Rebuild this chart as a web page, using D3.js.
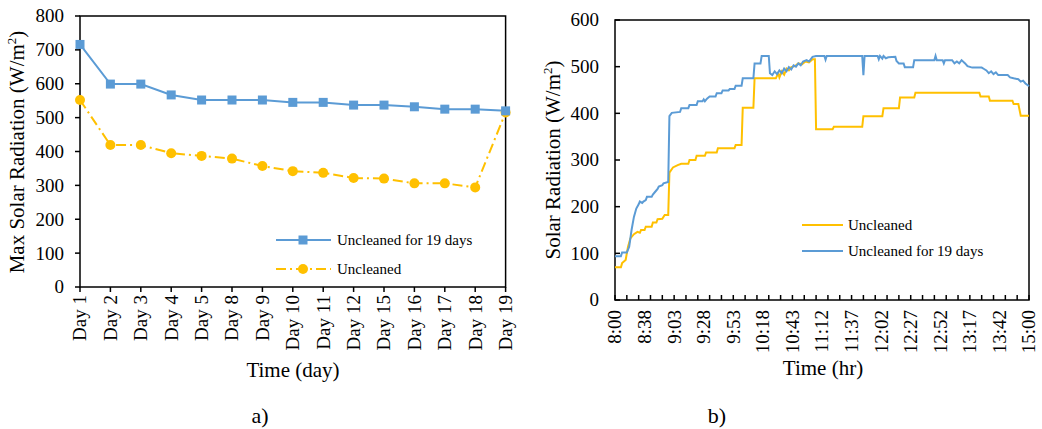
<!DOCTYPE html>
<html>
<head>
<meta charset="utf-8">
<script src="https://cdn.jsdelivr.net/npm/d3@7"></script>
<style>
  body { margin: 0; background: #fff; }
  svg text { font-family: "Liberation Serif", "Times New Roman", serif; fill: #000; }
</style>
</head>
<body>
<div id="viz"></div>
<script>
/*** data: a) daily max ***/
const days = ["Day 1","Day 2","Day 3","Day 4","Day 5","Day 8","Day 9","Day 10","Day 11","Day 12","Day 15","Day 16","Day 17","Day 18","Day 19"];
const maxDirty19 = [716, 599, 599, 567, 552, 552, 552, 545, 545, 537, 537, 532, 525, 525, 520];
const maxUncleaned = [552, 419, 419, 395, 387, 379, 357, 342, 337, 322, 320, 306, 306, 294, 515];

/*** data: b) one day, category index vs W/m2 ***/
const timeLabels = ["8:00","8:38","9:03","9:28","9:53","10:18","10:43","11:12","11:37","12:02","12:27","12:52","13:17","13:42","15:00"];
const dayUncleaned = [[0,70],[5,70],[6,79],[9,86],[11,114],[13,132],[16,141],[19,146],[21,144],[22,150],[25,150],[26,157],[31,157],[32,166],[35,166],[36,173],[40,174],[42,182],[45,182],[46,273],[49,284],[53,289],[56,292],[62,292],[63,300],[68,300],[69,309],[76,309],[77,316],[86,316],[87,325],[101,325],[102,332],[107,332],[108,412],[117,412],[118,475],[136,475],[138,486],[139,477],[141,490],[143,483],[145,496],[147,492],[149,499],[152,501],[155,507],[158,505],[161,511],[164,509],[167,516],[169,516],[170,366],[184,366],[185,371],[209,371],[210,394],[226,394],[227,411],[240,411],[241,434],[253,434],[254,444],[308,444],[309,436],[316,436],[317,427],[336,427],[337,420],[341,420],[343,395],[350,395]];
const dayDirty19 = [[0,94],[5,94],[6,102],[10,102],[12,114],[14,150],[16,178],[18,196],[20,205],[21,211],[23,208],[24,211],[26,214],[27,221],[31,221],[32,226],[34,232],[36,238],[37,243],[40,246],[41,250],[45,253],[46,394],[48,401],[55,403],[56,411],[62,411],[63,418],[69,418],[70,426],[74,426],[75,430],[76,426],[78,432],[80,436],[85,436],[86,443],[90,443],[91,449],[96,449],[97,452],[101,452],[102,459],[107,459],[108,475],[117,475],[118,507],[123,507],[124,523],[130,523],[131,486],[133,482],[135,490],[137,484],[139,492],[141,486],[143,496],[145,490],[147,499],[149,494],[151,503],[153,500],[155,507],[157,503],[159,511],[162,514],[164,511],[167,521],[170,523],[177,523],[178,515],[179,523],[209,523],[210,482],[211,523],[222,523],[223,516],[224,523],[226,517],[227,523],[229,518],[231,520],[237,521],[238,512],[240,507],[244,507],[245,499],[252,499],[253,514],[270,514],[271,523],[272,514],[277,514],[278,507],[279,514],[285,514],[287,507],[289,511],[291,507],[293,514],[296,507],[298,501],[302,498],[310,498],[312,495],[314,492],[316,486],[318,490],[320,484],[322,488],[324,482],[332,482],[334,477],[337,475],[341,473],[343,468],[345,470],[347,464],[349,460],[350,458]];

const blue = "#5B9BD5", gold = "#FFC000";

const svg = d3.select("#viz").append("svg")
  .attr("width", 1042).attr("height", 429);

/*** helper: box frame + y axis ***/
function frame(x0, x1, y, ticks, tickIn) {
  const g = svg.append("g");
  g.append("rect")
    .attr("x", x0).attr("y", y.range()[1])
    .attr("width", x1 - x0).attr("height", y.range()[0] - y.range()[1])
    .attr("fill", "none").attr("stroke", "#000").attr("stroke-width", 1.5);
  g.selectAll(".yt").data(ticks).join("line")
    .attr("x1", x0).attr("x2", tickIn ? x0 + 5 : x0 - 5)
    .attr("y1", d => y(d)).attr("y2", d => y(d))
    .attr("stroke", "#000").attr("stroke-width", 1.5);
  g.selectAll(".yl").data(ticks).join("text")
    .attr("x", x0 - 16).attr("y", d => y(d))
    .attr("dy", "0.34em").attr("text-anchor", "end")
    .attr("font-size", 19).text(d => d);
  return g;
}

function yTitle(x, yc, label) {
  const t = svg.append("text")
    .attr("transform", `translate(${x},${yc}) rotate(-90)`)
    .attr("text-anchor", "middle").attr("font-size", 21);
  t.append("tspan").text(label + " (W/m");
  t.append("tspan").attr("dy", -8).attr("font-size", 13).text("2");
  t.append("tspan").attr("dy", 8).text(")");
}

/*** a) ***/
const xa = d3.scalePoint().domain(days).range([80, 505.6]);
const ya = d3.scaleLinear().domain([0, 800]).range([287, 16]);
frame(80, 505.6, ya, d3.range(0, 801, 100), false);

svg.append("g").selectAll("line").data(days).join("line")
  .attr("x1", d => xa(d)).attr("x2", d => xa(d))
  .attr("y1", 287).attr("y2", 292)
  .attr("stroke", "#000").attr("stroke-width", 1.5);
svg.append("g").selectAll("text").data(days).join("text")
  .attr("transform", d => `translate(${xa(d)},${295}) rotate(-90)`)
  .attr("text-anchor", "end").attr("dy", "0.34em")
  .attr("font-size", 19).text(d => d);

const lineA = d3.line().x((d, i) => xa(days[i])).y(d => ya(d));
svg.append("path").attr("d", lineA(maxUncleaned))
  .attr("fill", "none").attr("stroke", gold).attr("stroke-width", 2)
  .attr("stroke-dasharray", "10,4,2,4");
svg.append("path").attr("d", lineA(maxDirty19))
  .attr("fill", "none").attr("stroke", blue).attr("stroke-width", 2);
svg.append("g").selectAll("circle").data(maxUncleaned).join("circle")
  .attr("cx", (d, i) => xa(days[i])).attr("cy", d => ya(d))
  .attr("r", 5).attr("fill", gold);
svg.append("g").selectAll("rect").data(maxDirty19).join("rect")
  .attr("x", (d, i) => xa(days[i]) - 4.5).attr("y", d => ya(d) - 4.5)
  .attr("width", 9).attr("height", 9).attr("fill", blue);

// legend a)
svg.append("line").attr("x1", 276).attr("x2", 331).attr("y1", 240).attr("y2", 240)
  .attr("stroke", blue).attr("stroke-width", 2);
svg.append("rect").attr("x", 298.5).attr("y", 235.5).attr("width", 9).attr("height", 9).attr("fill", blue);
svg.append("text").attr("x", 337).attr("y", 240).attr("dy", "0.34em").attr("font-size", 15)
  .text("Uncleaned for 19 days");
svg.append("line").attr("x1", 276).attr("x2", 331).attr("y1", 269).attr("y2", 269)
  .attr("stroke", gold).attr("stroke-width", 2).attr("stroke-dasharray", "10,4,2,4");
svg.append("circle").attr("cx", 303).attr("cy", 269).attr("r", 5).attr("fill", gold);
svg.append("text").attr("x", 337).attr("y", 269).attr("dy", "0.34em").attr("font-size", 15)
  .text("Uncleaned");

yTitle(24, 152, "Max Solar Radiation");
svg.append("text").attr("x", 293).attr("y", 377).attr("text-anchor", "middle")
  .attr("font-size", 21).text("Time (day)");
svg.append("text").attr("x", 260).attr("y", 423).attr("text-anchor", "middle")
  .attr("font-size", 22).text("a)");

/*** b) ***/
const xb = d3.scaleLinear().domain([0, 350]).range([615, 1029]);
const yb = d3.scaleLinear().domain([0, 600]).range([300, 20]);
frame(615, 1029, yb, d3.range(0, 601, 100), true);

svg.append("g").selectAll("line").data(d3.range(0, 351, 10)).join("line")
  .attr("x1", d => xb(d)).attr("x2", d => xb(d))
  .attr("y1", 300).attr("y2", 295)
  .attr("stroke", "#000").attr("stroke-width", 1.5);
svg.append("g").selectAll("text").data(timeLabels).join("text")
  .attr("transform", (d, i) => `translate(${xb(i * 25)},${310}) rotate(-90)`)
  .attr("text-anchor", "end").attr("dy", "0.34em")
  .attr("font-size", 19).text(d => d);

const lineB = d3.line().x(d => xb(d[0])).y(d => yb(d[1]));
svg.append("path").attr("d", lineB(dayUncleaned))
  .attr("fill", "none").attr("stroke", gold).attr("stroke-width", 2);
svg.append("path").attr("d", lineB(dayDirty19))
  .attr("fill", "none").attr("stroke", blue).attr("stroke-width", 2);

// legend b)
svg.append("line").attr("x1", 802).attr("x2", 843).attr("y1", 225).attr("y2", 225)
  .attr("stroke", gold).attr("stroke-width", 2);
svg.append("text").attr("x", 848).attr("y", 225).attr("dy", "0.34em").attr("font-size", 15)
  .text("Uncleaned");
svg.append("line").attr("x1", 802).attr("x2", 843).attr("y1", 251).attr("y2", 251)
  .attr("stroke", blue).attr("stroke-width", 2);
svg.append("text").attr("x", 848).attr("y", 251).attr("dy", "0.34em").attr("font-size", 15)
  .text("Uncleaned for 19 days");

yTitle(560, 160, "Solar Radiation");
svg.append("text").attr("x", 823).attr("y", 375).attr("text-anchor", "middle")
  .attr("font-size", 21).text("Time (hr)");
svg.append("text").attr("x", 717).attr("y", 423).attr("text-anchor", "middle")
  .attr("font-size", 22).text("b)");
</script>
</body>
</html>
